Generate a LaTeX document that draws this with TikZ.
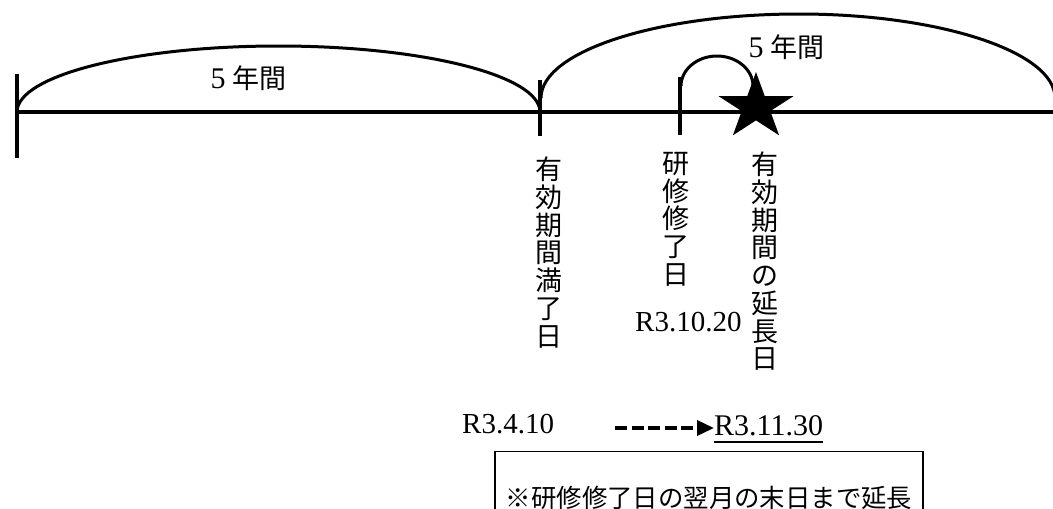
\documentclass[tikz,border=0pt]{standalone}
\usepackage{fontspec}
\setmainfont{Liberation Serif}
\newfontfamily\cjk{Noto Sans CJK JP}
\usetikzlibrary{arrows.meta}
\begin{document}
\begin{tikzpicture}[x=1pt,y=-1pt,
  mainline/.style={line width=3.8pt},
  tickline/.style={line width=3.8pt},
  spanarc/.style={line width=3pt},
  vlabel/.style={font=\cjk\fontsize{27}{27.7}\selectfont, align=center, inner sep=0pt, anchor=north},
  hlabel/.style={font=\fontsize{27}{27.7}\selectfont, inner sep=0pt},
  datelabel/.style={font=\fontsize{29}{32}\selectfont, inner sep=0pt, anchor=base west},
  dasharrow/.style={line width=3.6pt, dash pattern=on 12pt off 4.5pt, -{Triangle[length=17pt,width=15pt]}},
  notebox/.style={draw, line width=1.3pt, minimum width=428pt, minimum height=92pt, anchor=north, inner sep=0pt,
    font=\cjk\fontsize{25.4}{27}\selectfont}
]
\useasboundingbox (0,0) rectangle (1053,509);

% timeline points
\coordinate (L) at (17,112);
\coordinate (M) at (540,112);
\coordinate (K) at (680,112);
\coordinate (E) at (1060,112);

% main line and ticks
\draw[mainline] (L) -- (E);
\draw[tickline] (17,74) -- (17,158);
\draw[tickline] (540,80) -- (540,136);
\draw[tickline] (680,77) -- (680,135);

% spans
\coordinate (ra) at (541,98);
\coordinate (rb) at (1055,98);
\draw[spanarc] (L) .. controls (17,75.5) and (134.1,46) .. (278.5,46) .. controls (422.9,46) and (540,75.5) .. (M);
\draw[spanarc] (ra) .. controls (541,51.6) and (656.5,14) .. (799,14) .. controls (940,14) and (1055,52) .. (rb);

% small arc from training date to star
\coordinate (sa) at (681,86);
\coordinate (sb) at (753,86);
\draw[spanarc] (sa) .. controls (681,69.4) and (697.4,56) .. (717,56) .. controls (736.6,56) and (753,69.4) .. (sb);

% star
\fill (756,72) -- (764.8,96.2) -- (793.4,96.2) -- (770.3,111.1) -- (779.1,135.3) -- (756,120.4)
  -- (732.9,135.3) -- (741.7,111.1) -- (718.6,96.2) -- (747.2,96.2) -- cycle;

% span labels
\node[hlabel] (y1) at (248.4,78) {{\fontsize{30}{30}\selectfont 5} {\cjk 年間}};
\node[hlabel] (y2) at (786.5,47.5) {{\fontsize{30}{30}\selectfont 5} {\cjk 年間}};

% vertical labels
\node[vlabel] (v1) at (549,157) {有\\効\\期\\間\\満\\了\\日};
\node[vlabel] (v2) at (676,152) {研\\修\\修\\了\\日};
\node[vlabel] (v3) at (765,152) {有\\効\\期\\間\\の\\延\\長\\日};

% dates
\node[datelabel] (d1020) at (635,331.7) {R3.10.20};
\node[datelabel] (d410) at (462,433.3) {R3.4.10};
\node[datelabel, font=\fontsize{30}{32}\selectfont] (d1130) at (714,435) {R3.11.30};
\draw[line width=2pt] ([yshift=-6.7pt]d1130.south west) -- ([yshift=-6.7pt]d1130.south east);

\coordinate (as) at (615,428);
\draw[dasharrow] (as) -- (as -| d1130.west);

% note box
\node[notebox] (note) at (709,451) {※研修修了日の翌月の末日まで延長};
\end{tikzpicture}
\end{document}
